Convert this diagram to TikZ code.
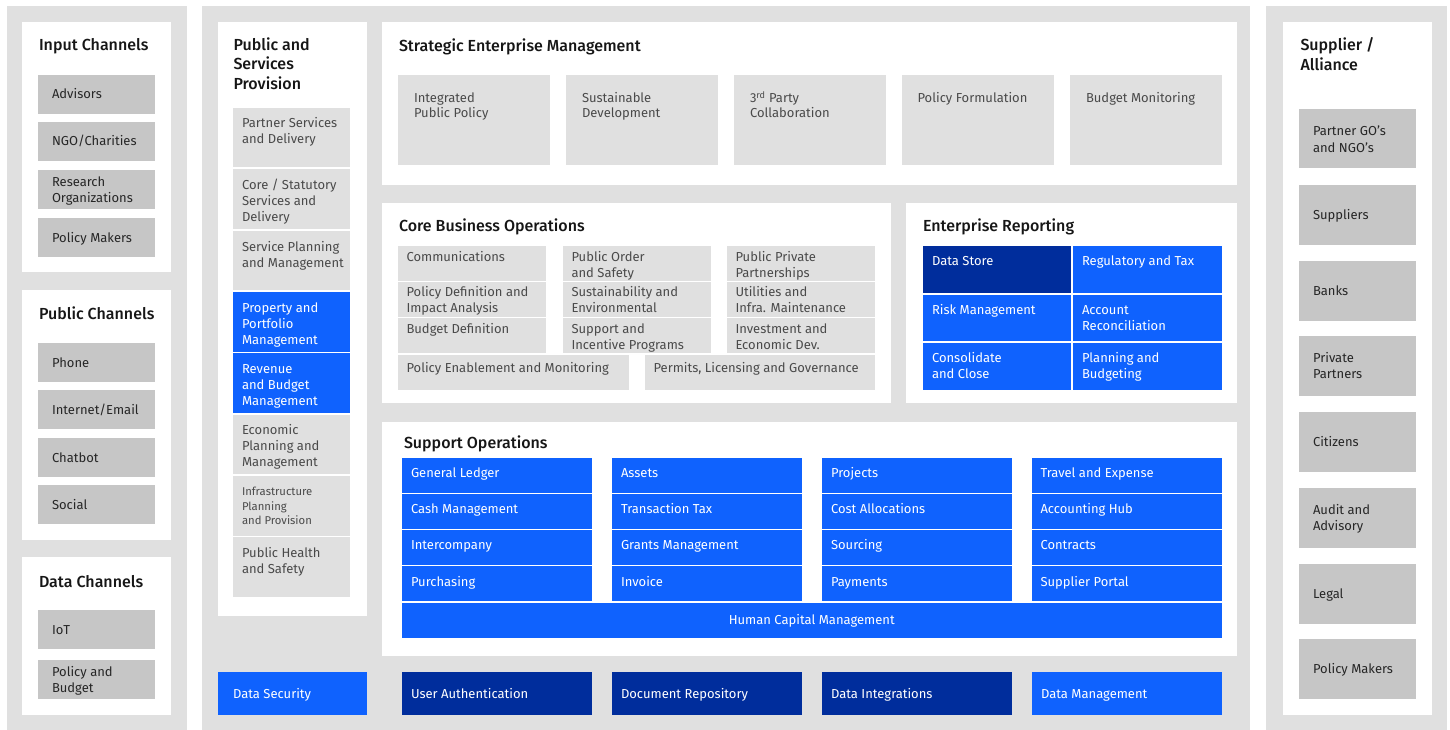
\documentclass[tikz,border=0pt]{standalone}
\usepackage{fontspec}
\setmainfont{Fira Sans}[BoldFont={* Medium}]
\usetikzlibrary{calc}
\definecolor{pgray}{HTML}{E0E0E0}
\definecolor{cgray}{HTML}{C6C6C6}
\definecolor{lgray}{HTML}{E0E0E0}
\definecolor{ibmblue}{HTML}{0F62FE}
\definecolor{ibmnavy}{HTML}{002D9C}
\definecolor{ink}{HTML}{161616}
\definecolor{inkd}{HTML}{262626}
\definecolor{inkg}{HTML}{4A4A4A}
\tikzset{
  every node/.style={inner sep=0pt, outer sep=0pt},
  ttl/.style={anchor=north west, align=left, text=ink, font=\fontsize{16}{19.5}\selectfont\bfseries},
  chan/.style={fill=cgray},
  chantxt/.style={text=inkd, font=\fontsize{13}{16.3}\selectfont},
  lite/.style={fill=lgray},
  litetxt/.style={text=inkg, font=\fontsize{13}{16}\selectfont},
  litesm/.style={fill=lgray},
  litesmtxt/.style={text=inkg, font=\fontsize{11.3}{14.5}\selectfont},
  strat/.style={fill=lgray},
  strattxt/.style={text=inkg, font=\fontsize{13}{15}\selectfont},
  bcell/.style={fill=ibmblue},
  bcelltxt/.style={text=white, font=\fontsize{13}{16}\selectfont},
  ncell/.style={fill=ibmnavy},
  ncelltxt/.style={text=white, font=\fontsize{13}{16}\selectfont},
}
% #1 style, #2 name, #3 x, #4 y, #5 w, #6 h, #7 offset of first baseline, #8 text
\newcommand\bx[8]{%
  \node[#1, anchor=north west, minimum width=#5, minimum height=#6] (#2) at (#3,#4) {};
  \node[#1txt, anchor=north west, align=left] (#2t) at ($(#2.north west)+(#7)+(0,-10)$) {\rule{0pt}{11pt}#8};%
}
% title: #1 name, #2 x, #3 first baseline, #4 text
\newcommand\ttlat[4]{%
  \node[ttl] (#1) at (#2,#3-13) {\rule{0pt}{14pt}#4};%
}
\begin{document}
\begin{tikzpicture}[x=1pt,y=-1pt]
\useasboundingbox (0,0) rectangle (1450,730);
% ---------- panels ----------
\fill[pgray] (7,6) rectangle (187,730);
\fill[pgray] (202,6) rectangle (1250,730);
\fill[pgray] (1266,6) rectangle (1447,730);
% ---------- left column ----------
\fill[white] (22,22) rectangle (171,272);
\fill[white] (22,290) rectangle (171,540);
\fill[white] (22,557) rectangle (171,715);
\ttlat{tin}{39}{50}{Input Channels}
\ttlat{tpub}{39}{318.5}{Public Channels}
\ttlat{tdat}{39}{586}{Data Channels}
\bx{chan}{c1}{38}{75}{117}{39}{14,23}{Advisors}
\bx{chan}{c2}{38}{122}{117}{39}{14,23}{NGO/Charities}
\bx{chan}{c3}{38}{170}{117}{39}{14,15}{Research\\Organizations}
\bx{chan}{c4}{38}{218}{117}{39}{14,23}{Policy Makers}
\bx{chan}{c5}{38}{343}{117}{39}{14,23}{Phone}
\bx{chan}{c6}{38}{390}{117}{39}{14,23}{Internet/Email}
\bx{chan}{c7}{38}{438}{117}{39}{14,23}{Chatbot}
\bx{chan}{c8}{38}{485}{117}{39}{14,23}{Social}
\bx{chan}{c9}{38}{610}{117}{39}{14,23}{IoT}
\bx{chan}{c10}{38}{660}{117}{39}{14,15}{Policy and\\Budget}
% ---------- public and services provision ----------
\fill[white] (218,22) rectangle (367,616);
\ttlat{tps}{233.5}{49.5}{Public and\\Services\\Provision}
\bx{lite}{p1}{233}{108}{117}{59.5}{9,19}{Partner Services\\and Delivery}
\bx{lite}{p2}{233}{169}{117}{59.5}{9,19.5}{Core / Statutory\\Services and\\Delivery}
\bx{lite}{p3}{233}{230.5}{117}{59.5}{9,19.5}{Service Planning\\and Management}
\bx{bcell}{p4}{233}{292}{117}{59.5}{9,19}{Property and\\Portfolio\\Management}
\bx{bcell}{p5}{233}{353}{117}{59.5}{9,19}{Revenue\\and Budget\\Management}
\bx{lite}{p6}{233}{414.5}{117}{59.5}{9,19}{Economic\\Planning and\\Management}
\bx{litesm}{p7}{233}{476}{117}{59.5}{9,18.5}{Infrastructure\\Planning\\and Provision}
\bx{lite}{p8}{233}{537}{117}{59.5}{9,19}{Public Health\\and Safety}
\bx{bcell}{dsec}{218}{672}{149}{43}{15,25}{Data Security}
% ---------- strategic enterprise management ----------
\fill[white] (382,22) rectangle (1237,185);
\ttlat{tsem}{399}{50.5}{Strategic Enterprise Management}
\bx{strat}{s1}{398}{75}{152}{90}{16,26.5}{Integrated\\Public Policy}
\bx{strat}{s2}{566}{75}{152}{90}{16,26.5}{Sustainable\\Development}
\bx{strat}{s3}{734}{75}{152}{90}{16,26.5}{3\textsuperscript{rd} Party\\Collaboration}
\bx{strat}{s4}{901.5}{75}{152}{90}{16,26.5}{Policy Formulation}
\bx{strat}{s5}{1070}{75}{152}{90}{16,26.5}{Budget Monitoring}
% ---------- core business operations ----------
\fill[white] (382,203) rectangle (891,403);
\ttlat{tcbo}{399}{230}{Core Business Operations}
\bx{lite}{o1}{398}{246}{148}{35}{8.5,14}{Communications}
\bx{lite}{o2}{563}{246}{148}{35}{8.5,14}{Public Order\\and Safety}
\bx{lite}{o3}{727}{246}{148}{35}{8.5,14}{Public Private\\Partnerships}
\bx{lite}{o4}{398}{282}{148}{35}{8.5,13.5}{Policy Definition and\\Impact Analysis}
\bx{lite}{o5}{563}{282}{148}{35}{8.5,13.5}{Sustainability and\\Environmental}
\bx{lite}{o6}{727}{282}{148}{35}{8.5,13.5}{Utilities and\\Infra. Maintenance}
\bx{lite}{o7}{398}{318}{148}{35}{8.5,14.5}{Budget Definition}
\bx{lite}{o8}{563}{318}{148}{35}{8.5,14.5}{Support and\\Incentive Programs}
\bx{lite}{o9}{727}{318}{148}{35}{8.5,14.5}{Investment and\\Economic Dev.}
\bx{lite}{o10}{398}{355}{231}{35}{8.5,16.5}{Policy Enablement and Monitoring}
\bx{lite}{o11}{645}{355}{230}{35}{8.5,16.5}{Permits, Licensing and Governance}
% ---------- enterprise reporting ----------
\fill[white] (906,203) rectangle (1237,403);
\ttlat{ter}{923}{230}{Enterprise Reporting}
\bx{ncell}{e1}{923}{246}{148}{46.5}{9,18.5}{Data Store}
\bx{bcell}{e2}{1073}{246}{149}{46.5}{9,18.5}{Regulatory and Tax}
\bx{bcell}{e3}{923}{294.5}{148}{46.5}{9,19}{Risk Management}
\bx{bcell}{e4}{1073}{294.5}{149}{46.5}{9,19}{Account\\Reconciliation}
\bx{bcell}{e5}{923}{343}{148}{46.5}{9,18.5}{Consolidate\\and Close}
\bx{bcell}{e6}{1073}{343}{149}{46.5}{9,18.5}{Planning and\\Budgeting}
% ---------- support operations ----------
\fill[white] (382,422) rectangle (1237,656);
\ttlat{tso}{404}{447}{Support Operations}
\bx{bcell}{g1}{402}{458}{190}{34.7}{9,18.7}{General Ledger}
\bx{bcell}{g2}{402}{494}{190}{34.7}{9,18.7}{Cash Management}
\bx{bcell}{g3}{402}{530}{190}{34.7}{9,18.7}{Intercompany}
\bx{bcell}{g4}{402}{566}{190}{34.7}{9,19.5}{Purchasing}
\bx{bcell}{g5}{612}{458}{190}{34.7}{9,18.7}{Assets}
\bx{bcell}{g6}{612}{494}{190}{34.7}{9,18.7}{Transaction Tax}
\bx{bcell}{g7}{612}{530}{190}{34.7}{9,18.7}{Grants Management}
\bx{bcell}{g8}{612}{566}{190}{34.7}{9,19.5}{Invoice}
\bx{bcell}{g9}{822}{458}{190}{34.7}{9,18.7}{Projects}
\bx{bcell}{g10}{822}{494}{190}{34.7}{9,18.7}{Cost Allocations}
\bx{bcell}{g11}{822}{530}{190}{34.7}{9,18.7}{Sourcing}
\bx{bcell}{g12}{822}{566}{190}{34.7}{9,19.5}{Payments}
\bx{bcell}{g13}{1031.5}{458}{190}{34.7}{9,18.7}{Travel and Expense}
\bx{bcell}{g14}{1031.5}{494}{190}{34.7}{9,18.7}{Accounting Hub}
\bx{bcell}{g15}{1031.5}{530}{190}{34.7}{9,18.7}{Contracts}
\bx{bcell}{g16}{1031.5}{566}{190}{34.7}{9,19.5}{Supplier Portal}
\node[bcell, anchor=north west, minimum width=819.5, minimum height=34.7] (hcm) at (402,603) {};
\node[bcelltxt, anchor=base] (hcmt) at ($(hcm.north)+(0,21.5)$) {Human Capital Management};
% ---------- bottom row ----------
\bx{ncell}{b1}{402}{672}{190}{43}{9,25}{User Authentication}
\bx{ncell}{b2}{612}{672}{190}{43}{9,25}{Document Repository}
\bx{ncell}{b3}{822}{672}{190}{43}{9,25}{Data Integrations}
\bx{bcell}{b4}{1032}{672}{190}{43}{9,25}{Data Management}
% ---------- supplier / alliance ----------
\fill[white] (1283,22) rectangle (1432,715);
\ttlat{tsa}{1300.5}{50}{Supplier /\\Alliance}
\bx{chan}{r1}{1299}{109}{117}{59.5}{14,26}{Partner GO’s\\and NGO’s}
\bx{chan}{r2}{1299}{185}{117}{59.5}{14,33.5}{Suppliers}
\bx{chan}{r3}{1299}{261}{117}{59.5}{14,33}{Banks}
\bx{chan}{r4}{1299}{336}{117}{59.5}{14,25.5}{Private\\Partners}
\bx{chan}{r5}{1299}{412}{117}{59.5}{14,33.5}{Citizens}
\bx{chan}{r6}{1299}{488}{117}{59.5}{14,25.5}{Audit and\\Advisory}
\bx{chan}{r7}{1299}{564}{117}{59.5}{14,33}{Legal}
\bx{chan}{r8}{1299}{639}{117}{59.5}{14,33.5}{Policy Makers}
\end{tikzpicture}
\end{document}
